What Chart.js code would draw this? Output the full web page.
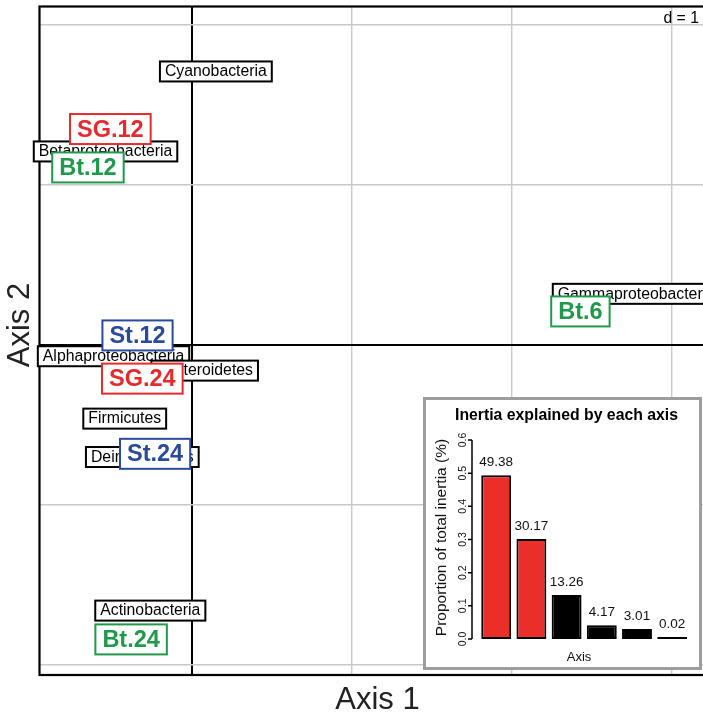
<!DOCTYPE html>
<html>
<head>
<meta charset="utf-8">
<title>Ordination biplot</title>
<script src="https://cdn.jsdelivr.net/npm/chart.js@4.4.1/dist/chart.umd.min.js"></script>
<style>
  html, body { margin: 0; padding: 0; background: #fff; overflow: hidden; }
  #wrap { position: relative; width: 703px; height: 720px; overflow: hidden; }
  #chart-main { position: absolute; left: 0; top: 0; }
  #inset-box {
    position: absolute; left: 423px; top: 397px;
    width: 273px; height: 267px;
    border: 3px solid #9d9d9d; background: #fff;
  }
  #chart-inertia { display: block; }
</style>
</head>
<body>
<div id="wrap">
  <canvas id="chart-main" width="720" height="720"></canvas>
  <div id="inset-box"><canvas id="chart-inertia" width="273" height="267"></canvas></div>
</div>

<script>
'use strict';

/* ── Data: taxa (column scores) ── */
const taxa  = ['Cyanobacteria', 'Betaproteobacteria', 'Gammaproteobacteria', 'Alphaproteobacteria',
               'Bacteroidetes', 'Firmicutes', 'Deinococcales', 'Actinobacteria'];
const taxaX = [0.15, -0.54, 2.78, -0.49, 0.08, -0.42, -0.31, -0.26];
const taxaY = [1.71, 1.21, 0.32, -0.07, -0.16, -0.46, -0.70, -1.66];

/* ── Data: samples (row scores) ── */
const samples  = ['SG.12', 'Bt.12', 'St.12', 'SG.24', 'St.24', 'Bt.24', 'Bt.6'];
const samplesX = [-0.51, -0.65, -0.34, -0.31, -0.23, -0.38, 2.43];
const samplesY = [1.35, 1.11, 0.06, -0.21, -0.68, -1.84, 0.21];

/* ── Grid (d = 1) ── */
const gridTicks = [-2, -1, 0, 1, 2, 3];

/* ── Data: inertia per axis ── */
const inertiaAxes   = ['1', '2', '3', '4', '5', '6'];
const inertiaValues = [0.4938, 0.3017, 0.1326, 0.0417, 0.0301, 0.0002];
const inertiaLabels = ['49.38', '30.17', '13.26', '4.17', '3.01', '0.02'];
const inertiaTicks  = [0, 0.1, 0.2, 0.3, 0.4, 0.5, 0.6];
const keptAxes = 2;

/* ── Theme ── */
const FONT = "'Liberation Sans', Arial, sans-serif";
const C = {
  grid:  '#c9c9c9',
  axis:  '#000',
  red:   '#e62a2e',
  blue:  '#2a4a9b',
  green: '#1f9a4b',
  bar:   '#ea2f2b',
};
const groupColor = { SG: C.red, St: C.blue, Bt: C.green };

/* ============================================================
   MAIN BIPLOT
   ============================================================ */
const frame = {
  id: 'frame',
  beforeDatasetsDraw(chart) {
    const { ctx, chartArea: a } = chart;
    ctx.save();
    ctx.strokeStyle = '#000';
    ctx.lineWidth = 2.2;
    ctx.strokeRect(a.left, a.top, a.right - a.left, a.bottom - a.top);
    ctx.restore();
  },
};

const boxLabels = {
  id: 'boxLabels',
  afterDatasetsDraw(chart) {
    const ctx = chart.ctx;
    chart.data.datasets.forEach((ds, i) => {
      const meta = chart.getDatasetMeta(i);
      const st = ds.labelStyle;
      ctx.save();
      ctx.font = st.font;
      ctx.textAlign = 'center';
      ctx.textBaseline = 'middle';
      meta.data.forEach((pt, j) => {
        const text = ds.names[j];
        const col = st.color(text);
        const w = ctx.measureText(text).width + st.padX * 2;
        const h = st.h;
        ctx.fillStyle = '#fff';
        ctx.fillRect(pt.x - w / 2, pt.y - h / 2, w, h);
        ctx.lineWidth = 2;
        ctx.strokeStyle = col;
        ctx.strokeRect(pt.x - w / 2, pt.y - h / 2, w, h);
        ctx.fillStyle = col;
        ctx.fillText(text, pt.x, pt.y + st.dy);
      });
      ctx.restore();
    });
  },
};

const mainText = {
  id: 'mainText',
  afterDraw(chart) {
    const ctx = chart.ctx;
    ctx.save();
    ctx.fillStyle = '#222';
    ctx.textBaseline = 'middle';
    ctx.font = `31px ${FONT}`;
    ctx.textAlign = 'center';
    ctx.fillText('Axis 1', 377.5, 700);
    ctx.save();
    ctx.translate(20.5, 325);
    ctx.rotate(-Math.PI / 2);
    ctx.fillText('Axis 2', 0, 0);
    ctx.restore();
    ctx.font = `15.8px ${FONT}`;
    ctx.textAlign = 'right';
    ctx.fillStyle = '#000';
    ctx.fillText('d = 1', 699, 19);
    ctx.restore();
  },
};

const gridColor = (c) => (c.tick && c.tick.value === 0 ? C.axis : C.grid);
const gridWidth = (c) => (c.tick && c.tick.value === 0 ? 2 : 1.4);
const keepInRange = (s) => {
  s.ticks = gridTicks.filter(v => v >= s.min && v <= s.max).map(v => ({ value: v }));
};

new Chart(document.getElementById('chart-main'), {
  type: 'scatter',
  data: {
    datasets: [
      {
        label: 'Taxa',
        names: taxa,
        data: taxa.map((_, i) => ({ x: taxaX[i], y: taxaY[i] })),
        pointRadius: 0,
        labelStyle: { font: `15.8px ${FONT}`, h: 20, padX: 5, dy: 0.5, color: () => '#000' },
      },
      {
        label: 'Samples',
        names: samples,
        data: samples.map((_, i) => ({ x: samplesX[i], y: samplesY[i] })),
        pointRadius: 0,
        labelStyle: {
          font: `bold 23.5px ${FONT}`, h: 30, padX: 7, dy: 1,
          color: (t) => groupColor[t.split('.')[0]],
        },
      },
    ],
  },
  options: {
    responsive: false,
    animation: false,
    layout: { padding: { left: 39.5, top: 6.5, right: 4, bottom: 45 } },
    plugins: { legend: { display: false }, tooltip: { enabled: false } },
    scales: {
      x: {
        type: 'linear', min: -0.953, max: 3.278,
        afterBuildTicks: keepInRange,
        ticks: { display: false },
        grid: { color: gridColor, lineWidth: gridWidth, drawTicks: false },
        border: { display: false },
      },
      y: {
        type: 'linear', min: -2.0625, max: 2.116,
        afterBuildTicks: keepInRange,
        ticks: { display: false },
        grid: { color: gridColor, lineWidth: gridWidth, drawTicks: false },
        border: { display: false },
      },
    },
  },
  plugins: [frame, boxLabels, mainText],
});

/* ============================================================
   INSET: INERTIA BAR CHART
   ============================================================ */
const inertiaDecor = {
  id: 'inertiaDecor',
  afterDraw(chart) {
    const { ctx } = chart;
    const y = chart.scales.y;
    const axisX = 46;
    ctx.save();
    ctx.strokeStyle = '#000';
    ctx.fillStyle = '#111';
    ctx.lineWidth = 1.5;

    /* y axis line + ticks */
    ctx.beginPath();
    ctx.moveTo(axisX, y.getPixelForValue(inertiaTicks[0]));
    ctx.lineTo(axisX, y.getPixelForValue(inertiaTicks[inertiaTicks.length - 1]));
    inertiaTicks.forEach(v => {
      const py = y.getPixelForValue(v);
      ctx.moveTo(axisX, py);
      ctx.lineTo(axisX - 4, py);
    });
    ctx.stroke();

    /* rotated tick labels */
    ctx.font = `10.5px ${FONT}`;
    ctx.textAlign = 'center';
    ctx.textBaseline = 'middle';
    inertiaTicks.forEach(v => {
      ctx.save();
      ctx.translate(37, y.getPixelForValue(v));
      ctx.rotate(-Math.PI / 2);
      ctx.fillText(v.toFixed(1), 0, 0);
      ctx.restore();
    });

    /* y title */
    ctx.font = `15.5px ${FONT}`;
    ctx.save();
    ctx.translate(15.5, 137.5);
    ctx.rotate(-Math.PI / 2);
    ctx.fillText('Proportion of total inertia (%)', 0, 0);
    ctx.restore();

    /* x title */
    ctx.font = `13px ${FONT}`;
    ctx.fillText('Axis', 153, 257);

    /* bar value labels */
    const meta = chart.getDatasetMeta(0);
    ctx.font = `13.5px ${FONT}`;
    meta.data.forEach((bar, i) => {
      ctx.fillText(inertiaLabels[i], bar.x, bar.y - 13);
    });

    /* main title */
    ctx.font = `bold 15.8px ${FONT}`;
    ctx.fillStyle = '#000';
    ctx.fillText('Inertia explained by each axis', 140.5, 16);
    ctx.restore();
  },
};

new Chart(document.getElementById('chart-inertia'), {
  type: 'bar',
  data: {
    labels: inertiaAxes,
    datasets: [{
      data: inertiaValues,
      backgroundColor: inertiaValues.map((_, i) => (i < keptAxes ? C.bar : '#000')),
      borderColor: '#000',
      borderWidth: 2,
      borderSkipped: false,
      minBarLength: 2,
      barPercentage: 0.85,
      categoryPercentage: 1,
    }],
  },
  options: {
    responsive: false,
    animation: false,
    layout: { padding: { left: 52.6, right: 9.2, top: 40, bottom: 28 } },
    plugins: { legend: { display: false }, tooltip: { enabled: false } },
    scales: {
      x: { display: false },
      y: { display: false, min: 0, max: 0.6 },
    },
  },
  plugins: [inertiaDecor],
});
</script>
</body>
</html>
